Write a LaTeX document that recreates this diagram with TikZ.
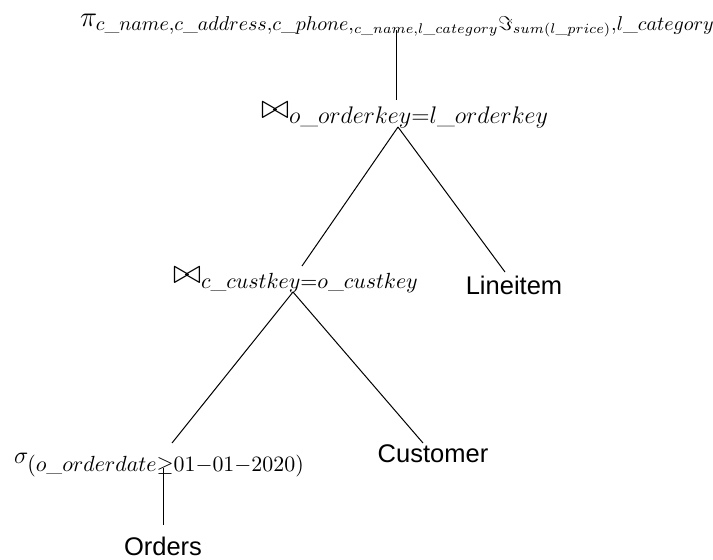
\documentclass[tikz,border=0pt]{standalone}
\usepackage{amsmath}
\usepackage{fontspec}
\setsansfont{Liberation Sans}
% math sizes used by the operator labels: {text}{math}{script}{scriptscript}
\DeclareMathSizes{15}{15}{9.85}{7.1}
\DeclareMathSizes{17}{17}{12.1}{8.3}
\DeclareMathSizes{16.2}{16.2}{10.55}{7.5}
\DeclareMathSizes{12.8}{12.8}{10.55}{7.5}
% underscore that follows the current math style
\newcommand\usc{\text{\_}}
\begin{document}
\begin{tikzpicture}[x=0.5pt,y=-0.5pt,
  op/.style={inner sep=0pt, outer sep=0pt, anchor=base west},
  rel/.style={inner sep=0pt, outer sep=0pt, font=\sffamily\fontsize{12.75}{15}\selectfont},
  edge/.style={draw=black, line width=0.5pt}]
\useasboundingbox (0,0) rectangle (713,559);

% operator labels
\node[op, font=\fontsize{15}{18}\selectfont] (proj) at (80,26)
  {$\pi_{c\usc name,c\usc address,c\usc phone,{}_{c\usc name,l\usc category}\Im_{sum(l\usc price)},l\usc category}$};
\node[op, font=\fontsize{17}{20}\selectfont] (join1) at (261,118) {$\bowtie_{o\usc orderkey=l\usc orderkey}$};
\node[op, font=\fontsize{16.2}{19}\selectfont] (join2) at (173,283) {$\bowtie_{c\usc custkey=o\usc custkey}$};
\node[op, font=\fontsize{12.8}{15}\selectfont] (sel) at (14,463) {$\sigma_{(o\usc orderdate\geq 01-01-2020)}$};

% base relations
\node[rel] (lineitem) at (514,285) {Lineitem};
\node[rel] (customer) at (433,454) {Customer};
\node[rel] (orders) at (163,546) {Orders};

% attachment points of the tree edges
\coordinate (proj-out) at (396,30);
\coordinate (join1-in) at (396,100);
\coordinate (join1-out) at (398,127);
\coordinate (join2-in) at (302,266);
\coordinate (lineitem-in) at (505,272);
\coordinate (join2-out) at (293,292);
\coordinate (sel-in) at (172,443);
\coordinate (customer-in) at (423,443);
\coordinate (sel-out) at (163,468);
\coordinate (orders-in) at (163,525);

\draw[edge] (proj-out) -- (join1-in);
\draw[edge] (join1-out) -- (join2-in);
\draw[edge] (join1-out) -- (lineitem-in);
\draw[edge] (join2-out) -- (sel-in);
\draw[edge] (join2-out) -- (customer-in);
\draw[edge] (sel-out) -- (orders-in);
\end{tikzpicture}
\end{document}
